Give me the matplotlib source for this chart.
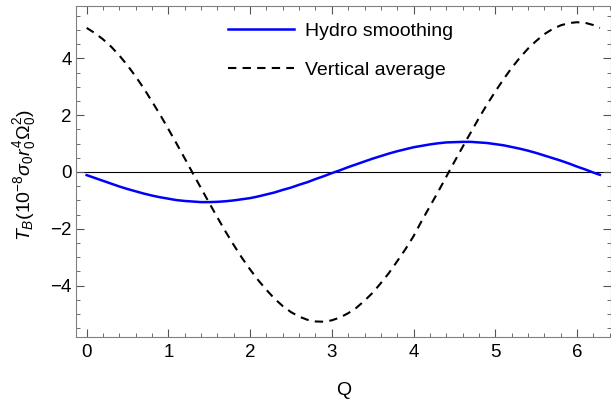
# Torque vs Q: hydro smoothing and vertical average

import numpy as np
import matplotlib.pyplot as plt
from matplotlib.ticker import MultipleLocator

plt.rcParams['font.family'] = 'Liberation Sans'
plt.rcParams['mathtext.fontset'] = 'custom'
plt.rcParams['mathtext.rm'] = 'Liberation Sans'
plt.rcParams['mathtext.it'] = 'Liberation Sans:italic'

# Data
q = [0.0, 0.1, 0.2, 0.3, 0.4, 0.5, 0.6, 0.7, 0.8, 0.9, 1.0, 1.1, 1.2, 1.3,
     1.4, 1.5, 1.6, 1.7, 1.8, 1.9, 2.0, 2.1, 2.2, 2.3, 2.4, 2.5, 2.6, 2.7,
     2.8, 2.9, 3.0, 3.1, 3.2, 3.3, 3.4, 3.5, 3.6, 3.7, 3.8, 3.9, 4.0, 4.1,
     4.2, 4.3, 4.4, 4.5, 4.6, 4.7, 4.8, 4.9, 5.0, 5.1, 5.2, 5.3, 5.4, 5.5,
     5.6, 5.7, 5.8, 5.9, 6.0, 6.1, 6.2, 6.28]
hydro = [-0.11, -0.21, -0.31, -0.41, -0.51, -0.60, -0.68, -0.76, -0.83, -0.89,
         -0.94, -0.99, -1.02, -1.04, -1.06, -1.06, -1.05, -1.03, -1.00, -0.96,
         -0.92, -0.86, -0.79, -0.72, -0.63, -0.55, -0.45, -0.36, -0.25, -0.15,
         -0.04, 0.06, 0.17, 0.27, 0.37, 0.47, 0.56, 0.65, 0.73, 0.80,
         0.87, 0.92, 0.97, 1.01, 1.04, 1.05, 1.06, 1.06, 1.04, 1.02,
         0.98, 0.94, 0.88, 0.82, 0.75, 0.67, 0.58, 0.49, 0.40, 0.30,
         0.19, 0.09, -0.02, -0.10]
vertical = [5.07, 4.89, 4.67, 4.41, 4.10, 3.75, 3.36, 2.94, 2.48, 2.01,
            1.51, 1.00, 0.48, -0.05, -0.57, -1.09, -1.60, -2.10, -2.57, -3.02,
            -3.43, -3.81, -4.15, -4.46, -4.72, -4.93, -5.09, -5.20, -5.26, -5.27,
            -5.22, -5.12, -4.97, -4.78, -4.53, -4.25, -3.91, -3.55, -3.14, -2.72,
            -2.26, -1.72, -1.21, -0.70, -0.17, 0.36, 0.88, 1.39, 1.90, 2.38,
            2.83, 3.26, 3.66, 4.02, 4.34, 4.61, 4.85, 5.03, 5.16, 5.24,
            5.27, 5.25, 5.17, 5.07]

fig = plt.figure(figsize=(6.11, 4.05), dpi=100)
ax = fig.add_axes([0.1244, 0.167, 0.8748, 0.8174])

ax.axhline(0, color='black', lw=0.8, zorder=1)
ax.plot(q, hydro, color='#0000ff', lw=1.8, label='Hydro smoothing')
ax.plot(q, vertical, color='black', lw=1.5, dashes=(4, 3), label='Vertical average')

ax.set_xlim(-0.13, 6.41)
ax.set_ylim(-5.82, 5.83)
ax.xaxis.set_major_locator(MultipleLocator(1))
ax.xaxis.set_minor_locator(MultipleLocator(0.2))
ax.yaxis.set_major_locator(MultipleLocator(2))
ax.yaxis.set_minor_locator(MultipleLocator(0.5))
ax.tick_params(which='both', direction='in', top=True, right=True,
               labelsize=13.5, color='#555555')
ax.tick_params(which='major', length=5.5)
ax.tick_params(which='minor', length=3)
ax.tick_params(axis='x', pad=5)
ax.tick_params(axis='y', pad=3)
for s in ax.spines.values():
    s.set_color('#808080')

ax.set_xlabel('Q', fontsize=14, labelpad=15)
ax.set_ylabel(r'$T_B(\mathrm{10}^{-8}\sigma_0 r_0^4\mathrm{\Omega}_0^2)$', fontsize=14)
ax.yaxis.set_label_coords(-0.072, 0.49)

ax.legend(loc='upper left', bbox_to_anchor=(0.284, 0.9526), frameon=False,
          fontsize=14, handlelength=3.4, handletextpad=0.57, labelspacing=1.1,
          borderpad=0, borderaxespad=0)

plt.savefig('out.png', dpi=100)
